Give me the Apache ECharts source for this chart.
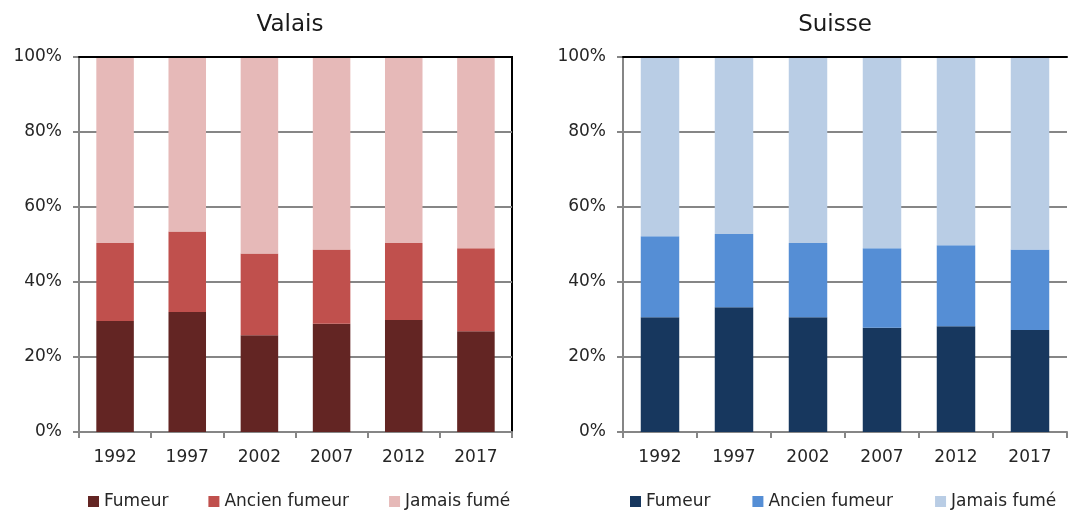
<!DOCTYPE html>
<html><head><meta charset="utf-8">
<script src="https://cdn.jsdelivr.net/npm/echarts@6/dist/echarts.min.js"></script>
<style>html,body{margin:0;padding:0;background:#fff}#c{width:1068px;height:510px}</style>
</head><body><div id="c"></div>
<script>
const years = ['1992','1997','2002','2007','2012','2017'];
const seriesNames = ['Fumeur','Ancien fumeur','Jamais fumé'];
const valaisFumeur = [29.6, 32.0, 25.8, 28.9, 29.9, 26.9];
const valaisAncien = [20.8, 21.5, 21.8, 19.8, 20.5, 22.1];
const valaisJamais = [49.6, 46.5, 52.4, 51.3, 49.6, 51.0];
const suisseFumeur = [30.6, 33.3, 30.6, 27.8, 28.2, 27.2];
const suisseAncien = [21.6, 19.5, 19.8, 21.2, 21.6, 21.5];
const suisseJamais = [47.8, 47.2, 49.6, 51.0, 50.2, 51.3];
const valaisColors = ['#632523','#C0504D','#E6B9B8'];
const suisseColors = ['#17375E','#558ED5','#B9CDE5'];

const FONT = 'DejaVu Sans';
const chart = echarts.init(document.getElementById('c'), null, {renderer:'canvas'});

function xMain(gi){
  return {type:'category', gridIndex:gi, data:years, position:'bottom',
    axisLine:{show:true, onZero:false, lineStyle:{color:'#868686', width:2}},
    axisTick:{show:true, length:6, alignWithLabel:false, lineStyle:{color:'#868686', width:2}},
    axisLabel:{color:'#262626', fontFamily:FONT, fontSize:17, margin:17},
    splitLine:{show:false}};
}
function xTop(gi){
  return {type:'category', gridIndex:gi, data:years, position:'top', z:5,
    axisLine:{show:true, onZero:false, lineStyle:{color:'#000', width:2}},
    axisTick:{show:false}, axisLabel:{show:false}, splitLine:{show:false}};
}
function yMain(gi){
  return {type:'value', gridIndex:gi, min:0, max:100, interval:20, position:'left',
    axisLine:{show:true, onZero:false, lineStyle:{color:'#868686', width:2}},
    axisTick:{show:true, length:6, lineStyle:{color:'#868686', width:2}},
    axisLabel:{color:'#262626', fontFamily:FONT, fontSize:17, margin:17, formatter:'{value}%'},
    splitLine:{show:true, showMaxLine:false, lineStyle:{color:'#868686', width:2}}};
}
function bars(name, data, color, xi, yi, stack){
  return {name, type:'bar', stack, data, xAxisIndex:xi, yAxisIndex:yi,
    barWidth:'52%', itemStyle:{color}, emphasis:{disabled:true}};
}
function legendStyle(left, gap, names){
  return {type:'plain', orient:'horizontal', left, top:488, width:443, itemWidth:11, itemHeight:11, itemGap:gap, icon:'rect',
    textStyle:{fontFamily:FONT, fontSize:17, color:'#262626'},
    formatter: n => n.trim(),
    data:names, selectedMode:false};
}

chart.setOption({
  animation:false,
  title:[
    {text:'Valais', left:285, top:9, textAlign:'center', textStyle:{fontFamily:FONT, fontSize:23, fontWeight:'normal', color:'#1a1a1a'}},
    {text:'Suisse', left:830, top:9, textAlign:'center', textStyle:{fontFamily:FONT, fontSize:23, fontWeight:'normal', color:'#1a1a1a'}}
  ],
  legend:[
    legendStyle(83, 40, ['Fumeur','Ancien fumeur','Jamais fumé']),
    legendStyle(625, 42, ['Fumeur ','Ancien fumeur ','Jamais fumé '])
  ],
  grid:[
    {left:79, right:556, top:57, bottom:78, show:true, borderColor:'#000', borderWidth:2, backgroundColor:'transparent'},
    {left:623, right:1, top:57, bottom:78}
  ],
  xAxis:[xMain(0), xTop(0), xMain(1), xTop(1)],
  yAxis:[yMain(0), yMain(1)],
  series:[
    bars(seriesNames[0], valaisFumeur, valaisColors[0], 0, 0, 'v'),
    bars(seriesNames[1], valaisAncien, valaisColors[1], 0, 0, 'v'),
    bars(seriesNames[2], valaisJamais, valaisColors[2], 0, 0, 'v'),
    bars(seriesNames[0]+' ', suisseFumeur, suisseColors[0], 2, 1, 's'),
    bars(seriesNames[1]+' ', suisseAncien, suisseColors[1], 2, 1, 's'),
    bars(seriesNames[2]+' ', suisseJamais, suisseColors[2], 2, 1, 's')
  ]
});
</script>
</body></html>
